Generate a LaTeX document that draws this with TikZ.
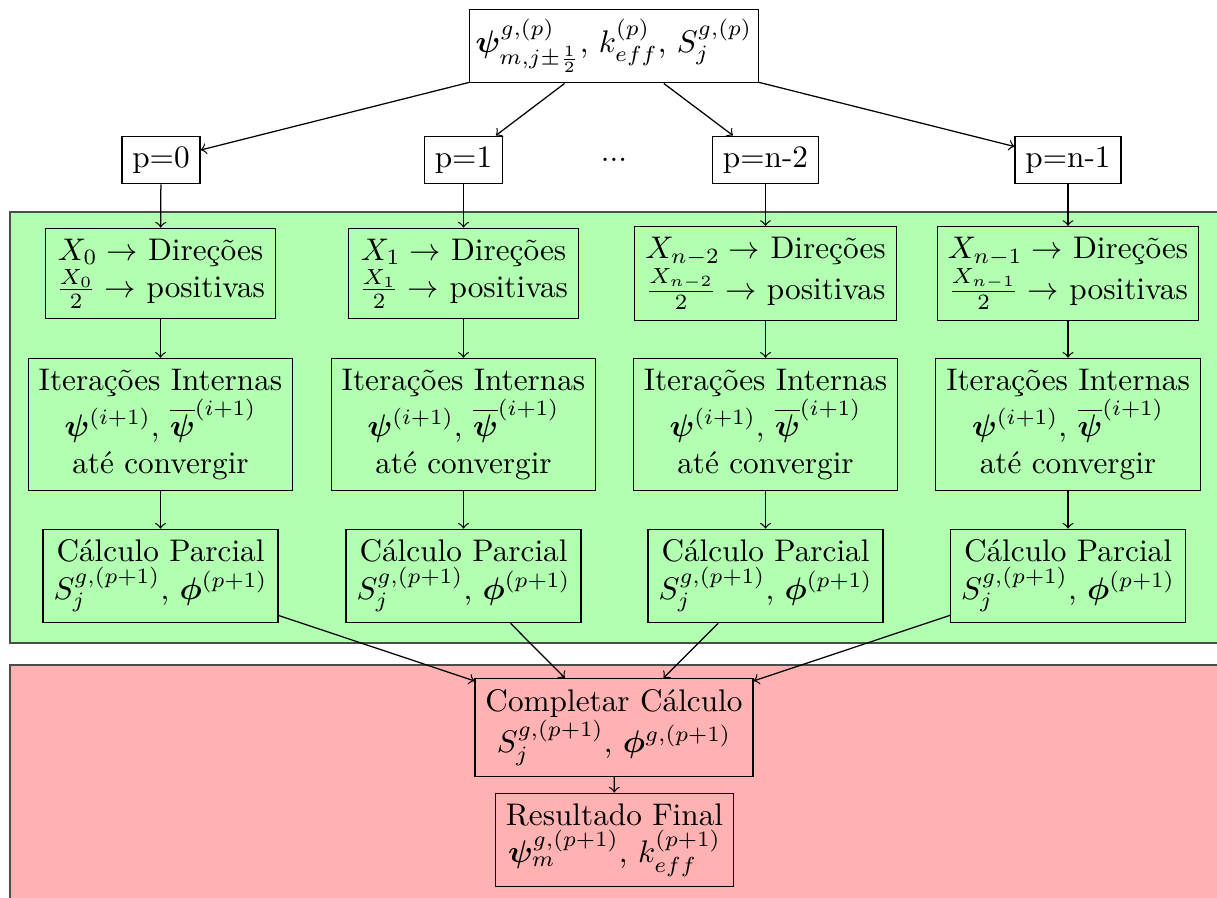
\documentclass[tikz,border=0pt]{standalone}
\usepackage{amsmath,bm}
\begin{document}
\begin{tikzpicture}[x=0.32pt,y=-0.32pt,
  box/.style={draw,align=center},
  panel/.style={draw=black!70,line width=0.6pt},
  conn/.style={->}]
\clip (0,0) rectangle (1217,898);
\draw[panel,fill=green!30] (10,212) rectangle (1260,643);
\draw[panel,fill=red!30] (10,665) rectangle (1260,940);
% top
\node[box,inner xsep=2pt] (top) at (614,46) {$\boldsymbol{\psi}^{g,(p)}_{m,j\pm\frac{1}{2}}$, $k^{(p)}_{eff}$, $S^{g,(p)}_j$};
% p nodes
\node[box] (p0) at (161,160) {p=0};
\node[box] (p1) at (463.5,160) {p=1};
\node (dots) at (614,160) {...};
\node[box] (p2) at (765.5,160) {p=n-2};
\node[box] (p3) at (1068,160) {p=n-1};
% row 1
\node[box] (a0) at (160.5,273.5) {$X_0 \rightarrow$ Direções\\ $\frac{X_0}{2} \rightarrow$ positivas};
\node[box] (a1) at (463.5,273.5) {$X_1 \rightarrow$ Direções\\ $\frac{X_1}{2} \rightarrow$ positivas};
\node[box] (a2) at (765.5,273.5) {$X_{n-2} \rightarrow$ Direções\\ $\frac{X_{n-2}}{2} \rightarrow$ positivas};
\node[box] (a3) at (1068,273.5) {$X_{n-1} \rightarrow$ Direções\\ $\frac{X_{n-1}}{2} \rightarrow$ positivas};
% row 2
\node[box] (b0) at (160.5,424.5) {Iterações Internas\\ $\boldsymbol{\psi}^{(i+1)}$, $\overline{\boldsymbol{\psi}}^{(i+1)}$\\ até convergir};
\node[box] (b1) at (463.5,424.5) {Iterações Internas\\ $\boldsymbol{\psi}^{(i+1)}$, $\overline{\boldsymbol{\psi}}^{(i+1)}$\\ até convergir};
\node[box] (b2) at (765.5,424.5) {Iterações Internas\\ $\boldsymbol{\psi}^{(i+1)}$, $\overline{\boldsymbol{\psi}}^{(i+1)}$\\ até convergir};
\node[box] (b3) at (1068,424.5) {Iterações Internas\\ $\boldsymbol{\psi}^{(i+1)}$, $\overline{\boldsymbol{\psi}}^{(i+1)}$\\ até convergir};
% row 3
\node[box] (c0) at (160.5,576) {Cálculo Parcial\\ $S^{g,(p+1)}_j$, $\boldsymbol{\phi}^{(p+1)}$};
\node[box] (c1) at (463.5,576) {Cálculo Parcial\\ $S^{g,(p+1)}_j$, $\boldsymbol{\phi}^{(p+1)}$};
\node[box] (c2) at (765.5,576) {Cálculo Parcial\\ $S^{g,(p+1)}_j$, $\boldsymbol{\phi}^{(p+1)}$};
\node[box] (c3) at (1068,576) {Cálculo Parcial\\ $S^{g,(p+1)}_j$, $\boldsymbol{\phi}^{(p+1)}$};
% bottom
\node[box] (comp) at (614,727.5) {Completar Cálculo\\ $S^{g,(p+1)}_j$, $\boldsymbol{\phi}^{g,(p+1)}$};
\node[box] (res) at (614.5,840) {Resultado Final\\ $\boldsymbol{\psi}^{g,(p+1)}_m$, $k^{(p+1)}_{eff}$};
% connectors
\foreach \i in {0,1,2,3} {
  \draw[conn] (top) -- (p\i);
  \draw[conn] (p\i) -- (a\i);
  \draw[conn] (a\i) -- (b\i);
  \draw[conn] (b\i) -- (c\i);
  \draw[conn] (c\i) -- (comp);
}
\draw[conn] (comp) -- (res);
\end{tikzpicture}
\end{document}
